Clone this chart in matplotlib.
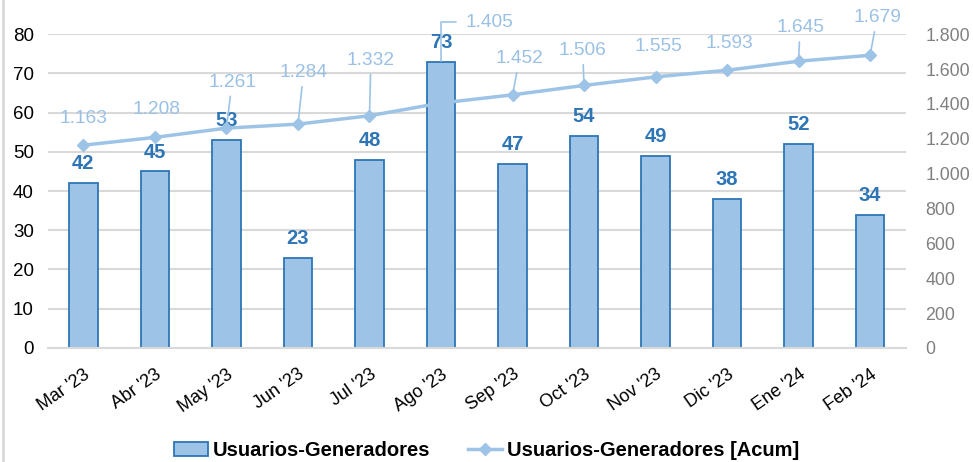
import matplotlib.pyplot as plt
from matplotlib.ticker import FuncFormatter
from matplotlib.lines import Line2D
from matplotlib.patches import Patch

plt.rcParams['font.family'] = ['Liberation Sans', 'DejaVu Sans']

# data
meses = ["Mar '23", "Abr '23", "May '23", "Jun '23", "Jul '23", "Ago '23",
         "Sep '23", "Oct '23", "Nov '23", "Dic '23", "Ene '24", "Feb '24"]
usuarios = [42, 45, 53, 23, 48, 73, 47, 54, 49, 38, 52, 34]
acumulado = [1163, 1208, 1261, 1284, 1332, 1405, 1452, 1506, 1555, 1593, 1645, 1679]

# label offsets for the cumulative line (points), and which get a leader line
acum_offsets = [(0, 19), (1, 20), (4, 33), (4, 37), (1, 40), (35, 58),
                (5, 26), (-1, 25), (2, 22), (2, 19), (1, 24), (5, 27)]
acum_leader = [False, False, True, True, True, 'elbow', True, True, False, False, True, True]

bar_face = '#9DC3E6'
bar_edge = '#2E75B6'
line_col = '#9DC3E6'
grid_col = '#D9D9D9'

fig = plt.figure(figsize=(9.73, 4.62), dpi=100)
ax = fig.add_axes([0.049, 0.247, 0.882, 0.679])
ax2 = ax.twinx()

x = list(range(len(meses)))
ax.bar(x, usuarios, width=0.4, color=bar_face, edgecolor=bar_edge, linewidth=1.3, zorder=2)
for xi, v in zip(x, usuarios):
    ax.annotate(str(v), (xi, v), xytext=(0, 7), textcoords='offset points',
                ha='center', va='bottom', fontsize=14.5, fontweight='bold', color=bar_edge)

ax.set_ylim(0, 80)
ax.set_yticks(range(0, 81, 10))
ax.set_xlim(-0.5, len(meses) - 0.5)
ax.set_xticks(x)
ax.set_xticklabels(meses, rotation=35, ha='right', rotation_mode='anchor', fontsize=13)
ax.tick_params(axis='y', labelsize=13.5, length=0, pad=10, labelcolor='#000000')
ax.tick_params(axis='x', length=0, pad=13)
ax.grid(axis='y', color=grid_col, linewidth=1.5, zorder=0)
ax.set_axisbelow(True)
for s in ['top', 'right', 'left']:
    ax.spines[s].set_visible(False)
ax.spines['bottom'].set_color('#D9D9D9')
ax.spines['bottom'].set_linewidth(1.5)

ax2.plot(x, acumulado, color=line_col, linewidth=2.5, marker='D', markersize=6.5, zorder=3)
for xi, v, off, ld in zip(x, acumulado, acum_offsets, acum_leader):
    txt = f"{v:,}".replace(',', '.')
    if ld == 'elbow':
        props = dict(arrowstyle='-', color=line_col, lw=1.2,
                     connectionstyle='angle,angleA=0,angleB=90,rad=0',
                     shrinkA=5, shrinkB=30)
    elif ld:
        props = dict(arrowstyle='-', color=line_col, lw=1.2, shrinkA=2, shrinkB=3)
    else:
        props = None
    ax2.annotate(txt, (xi, v), xytext=off, textcoords='offset points',
                 ha='center', va='center', fontsize=13.8, color='#9AC1E5',
                 arrowprops=props)

ax2.set_ylim(0, 1800)
ax2.set_yticks(range(0, 1801, 200))
ax2.yaxis.set_major_formatter(FuncFormatter(lambda v, p: f"{int(v):,}".replace(',', '.')))
ax2.tick_params(axis='y', labelsize=12.8, length=0, pad=14, labelcolor='#808080')
for s in ['top', 'right', 'left', 'bottom']:
    ax2.spines[s].set_visible(False)

# thin border on the left edge of the figure
fig.add_artist(Line2D([0.003, 0.003], [0, 1], color='#D9D9D9', linewidth=2))

handles = [Patch(facecolor=bar_face, edgecolor=bar_edge, linewidth=1.3),
           Line2D([], [], color=line_col, linewidth=2.5, marker='D', markersize=6.5)]
fig.legend(handles, ['Usuarios-Generadores', 'Usuarios-Generadores [Acum]'],
           loc='lower center', bbox_to_anchor=(0.5, -0.035), ncol=2, frameon=False,
           prop={'size': 14.5, 'weight': 'bold'}, columnspacing=1.9, handlelength=1.7,
           handletextpad=0.2)

fig.savefig('out.png', dpi=100)
